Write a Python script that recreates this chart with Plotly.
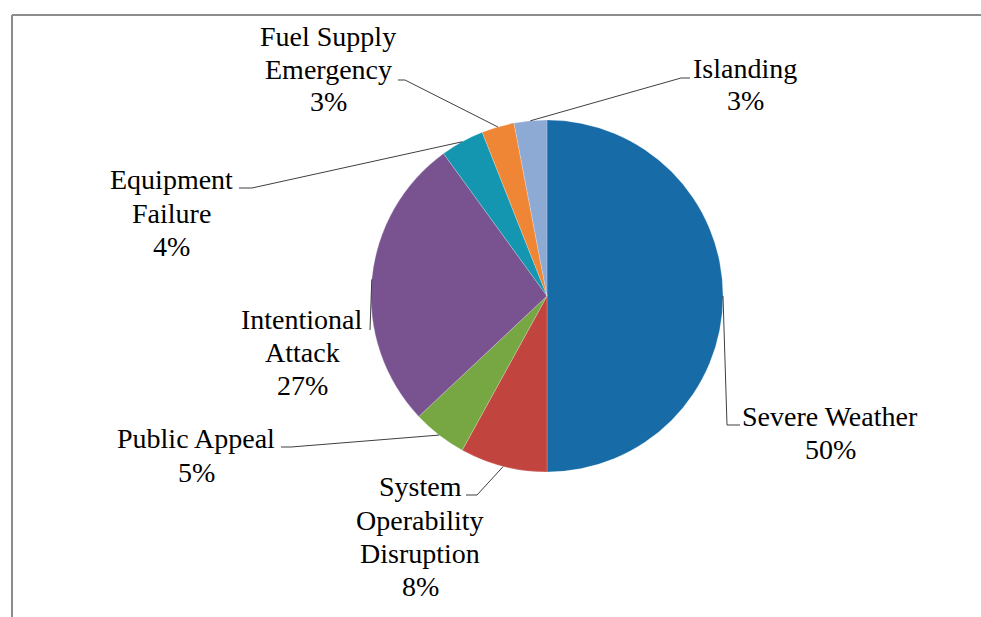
import math
import plotly.graph_objects as go

# Causes of emergency events, clockwise from 12 o'clock
causes = ["Severe Weather", "System Operability Disruption", "Public Appeal",
          "Intentional Attack", "Equipment Failure", "Fuel Supply Emergency", "Islanding"]
shares = [50, 8, 5, 27, 4, 3, 3]
label_lines = [
    ["Severe Weather"],
    ["System", "Operability", "Disruption"],
    ["Public Appeal"],
    ["Intentional", "Attack"],
    ["Equipment", "Failure"],
    ["Fuel Supply", "Emergency"],
    ["Islanding"],
]
colors = ["#176CA8", "#C2443E", "#77A743", "#78538F", "#1495B0", "#EF8636", "#8DAAD5"]

W, H = 981, 617
CX, CY, R = 547, 296, 176  # pie centre and radius in pixels
FONT = "'Liberation Serif', 'Times New Roman', serif"

# Label placement (pixels): centre x, centre y of first line,
# leader elbow point and end of the short horizontal tail.
label_layout = {
    "Severe Weather": dict(x=830, y=416, elbow=(727, 425), tail=(740, 425)),
    "System Operability Disruption": dict(x=420, y=487, elbow=(477, 495), tail=(466, 495)),
    "Public Appeal": dict(x=196, y=439, elbow=(291, 447), tail=(281, 447)),
    "Intentional Attack": dict(x=302, y=319, elbow=(370, 330), tail=None),
    "Equipment Failure": dict(x=171, y=180, elbow=(252, 188), tail=(239, 188)),
    "Fuel Supply Emergency": dict(x=328, y=36, elbow=(405, 80), tail=(398, 80)),
    "Islanding": dict(x=745, y=68, elbow=(681, 78), tail=(690, 78)),
}
LINE_STEP = 33


def px(x):
    return x / W


def py(y):
    return 1 - y / H


fig = go.Figure(go.Pie(
    labels=causes,
    values=shares,
    sort=False,
    direction="clockwise",
    rotation=0,
    marker=dict(colors=colors, line=dict(color="rgba(255,255,255,0.35)", width=0.6)),
    textinfo="none",
    hoverinfo="label+percent",
    showlegend=False,
    domain=dict(x=[px(CX - R), px(CX + R)], y=[py(CY + R), py(CY - R)]),
))

shapes = []
annotations = []
total = sum(shares)
cum = 0
for name, val, lines in zip(causes, shares, label_lines):
    theta = 2 * math.pi * (cum + val / 2) / total
    cum += val
    sx = CX + R * math.sin(theta)
    sy = CY - R * math.cos(theta)
    lay = label_layout[name]
    ex, ey = lay["elbow"]
    shapes.append(dict(type="line", xref="paper", yref="paper",
                       x0=px(sx), y0=py(sy), x1=px(ex), y1=py(ey),
                       line=dict(color="#3f3f3f", width=1)))
    if lay["tail"] is not None:
        tx, ty = lay["tail"]
        shapes.append(dict(type="line", xref="paper", yref="paper",
                           x0=px(ex), y0=py(ey), x1=px(tx), y1=py(ty),
                           line=dict(color="#3f3f3f", width=1)))
    pct = f"{round(100 * val / total)}%"
    for i, txt in enumerate(lines + [pct]):
        annotations.append(dict(
            text=txt, x=px(lay["x"]), y=py(lay["y"] + i * LINE_STEP),
            xref="paper", yref="paper", xanchor="center", yanchor="middle",
            showarrow=False,
            font=dict(family=FONT, size=28, color="#000000"),
        ))

# Chart frame (top and left edges)
shapes.append(dict(type="line", xref="paper", yref="paper",
                   x0=px(12), y0=py(15), x1=1, y1=py(15),
                   line=dict(color="#8c8c8c", width=2)))
shapes.append(dict(type="line", xref="paper", yref="paper",
                   x0=px(12), y0=py(15), x1=px(12), y1=0,
                   line=dict(color="#8c8c8c", width=2)))

fig.update_layout(
    width=W, height=H,
    margin=dict(l=0, r=0, t=0, b=0),
    paper_bgcolor="white",
    plot_bgcolor="white",
    font=dict(family=FONT),
    shapes=shapes,
    annotations=annotations,
)

fig.write_html("out.html")
